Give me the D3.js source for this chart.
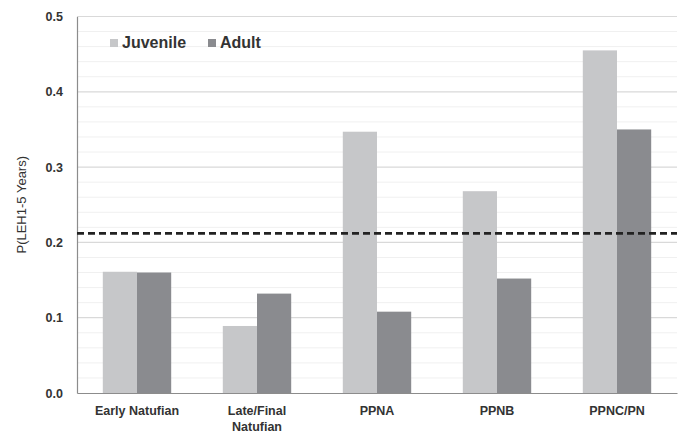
<!DOCTYPE html>
<html><head><meta charset="utf-8">
<script src="https://cdn.jsdelivr.net/npm/d3@7"></script>
<style>body{margin:0;background:#fff}svg{display:block}</style>
</head><body>
<svg id="c" width="682" height="434"></svg>
<script>
const categories = [["Early Natufian"], ["Late/Final", "Natufian"], ["PPNA"], ["PPNB"], ["PPNC/PN"]];
const seriesNames = ["Juvenile", "Adult"];
const juvenile = [0.161, 0.089, 0.347, 0.268, 0.455];
const adult = [0.160, 0.132, 0.108, 0.152, 0.350];
const referenceValue = 0.212;
const yTicks = [0.0, 0.1, 0.2, 0.3, 0.4, 0.5];
const colors = ["#c6c7c9", "#8a8b8f"];

const svg = d3.select("#c");
const m = {l: 77, r: 5, t: 16.5, b: 41};
const W = 682, H = 434;
const x = d3.scaleBand().domain(d3.range(categories.length)).range([m.l, W - m.r]).paddingInner(0.43).paddingOuter(0.215);
const x1 = d3.scaleBand().domain(seriesNames).range([0, x.bandwidth()]);
const y = d3.scaleLinear().domain([0, 0.5]).range([H - m.b, m.t]);

// minor grid
const minor = d3.range(0, 0.5001, 0.02).filter(v => Math.abs(v * 10 - Math.round(v * 10)) > 1e-6);
svg.append("g").selectAll("line").data(minor).join("line")
  .attr("x1", m.l).attr("x2", W - m.r).attr("y1", d => y(d)).attr("y2", d => y(d))
  .attr("stroke", "#f0f0f0").attr("stroke-width", 1);
// major grid
svg.append("g").selectAll("line").data(yTicks.slice(1)).join("line")
  .attr("x1", m.l).attr("x2", W - m.r).attr("y1", d => y(d)).attr("y2", d => y(d))
  .attr("stroke", "#d9d9d9").attr("stroke-width", 1.2);

// bars
const data = categories.map((c, i) => ({i, vals: [juvenile[i], adult[i]]}));
const g = svg.append("g").selectAll("g").data(data).join("g")
  .attr("transform", d => `translate(${x(d.i)},0)`);
g.selectAll("rect").data(d => d.vals.map((v, k) => ({v, k}))).join("rect")
  .attr("x", d => x1(seriesNames[d.k])).attr("width", x1.bandwidth())
  .attr("y", d => y(d.v)).attr("height", d => y(0) - y(d.v))
  .attr("fill", d => colors[d.k]);

// axes
const yAxis = d3.axisLeft(y).tickValues(yTicks).tickFormat(d3.format(".1f")).tickSize(0).tickPadding(14);
const ya = svg.append("g").attr("transform", `translate(${m.l},0)`).call(yAxis);
ya.select(".domain").attr("stroke", "#8c8c8c").attr("stroke-width", 1.2);
ya.selectAll("text").attr("font-family", "Liberation Sans, Arial, sans-serif").attr("font-weight", "bold")
  .attr("font-size", 12.5).attr("fill", "#333");

const xa = svg.append("g").attr("transform", `translate(0,${y(0)})`)
  .call(d3.axisBottom(x).tickSize(0).tickFormat(""));
xa.select(".domain").attr("stroke", "#8c8c8c").attr("stroke-width", 1.2);
const xl = svg.append("g");
categories.forEach((lines, i) => {
  const t = xl.append("text").attr("x", x(i) + x.bandwidth() / 2).attr("y", y(0) + 22)
    .attr("text-anchor", "middle").attr("font-family", "Liberation Sans, Arial, sans-serif")
    .attr("font-weight", "bold").attr("font-size", 12.5).attr("fill", "#333");
  lines.forEach((ln, j) => t.append("tspan").attr("x", x(i) + x.bandwidth() / 2).attr("dy", j ? 16 : 0).text(ln));
});

// reference line
svg.append("line").attr("x1", m.l).attr("x2", W - m.r).attr("y1", y(referenceValue)).attr("y2", y(referenceValue))
  .attr("stroke", "#222").attr("stroke-width", 2.6).attr("stroke-dasharray", "7,4");

// y title
svg.append("text").attr("transform", `translate(26,${(y(0) + y(0.5)) / 2}) rotate(-90)`)
  .attr("text-anchor", "middle").attr("font-family", "Liberation Sans, Arial, sans-serif")
  .attr("font-size", 13).attr("fill", "#333").text("P(LEH1-5 Years)");

// legend
const lg = svg.append("g");
const lx = [110, 208];
seriesNames.forEach((s, k) => {
  lg.append("rect").attr("x", lx[k]).attr("y", 39).attr("width", 8).attr("height", 8).attr("fill", colors[k]);
  lg.append("text").attr("x", lx[k] + 12).attr("y", 48).attr("font-family", "Liberation Sans, Arial, sans-serif")
    .attr("font-weight", "bold").attr("font-size", 16).attr("fill", "#333").text(s);
});
</script>
</body></html>
